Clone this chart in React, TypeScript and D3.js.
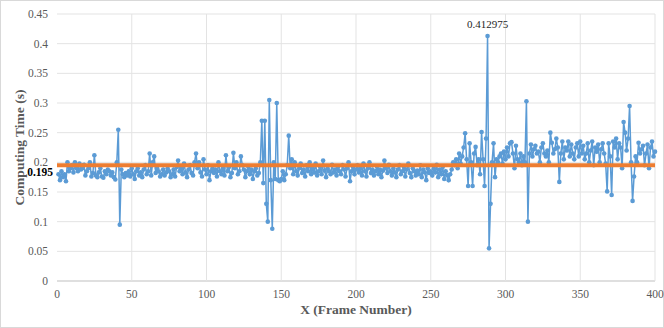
import React from "react";
import * as d3 from "d3";

const segA = [
  0.180,0.170,0.185,0.175,0.180,0.168,0.200,0.185,0.190,0.195,
  0.183,0.200,0.190,0.185,0.198,0.188,0.190,0.196,0.178,0.185,
  0.190,0.200,0.176,0.182,0.212,0.178,0.175,0.183,0.190,0.176,
  0.174,0.185,0.180,0.188,0.185,0.178,0.183,0.175,0.171,0.200,
  0.255,0.095,0.188,0.180,0.175,0.182,0.178,0.185,0.176,0.190,
];
const segB = [
  0.180,0.172,0.185,0.190,0.178,0.183,0.175,0.188,0.195,0.180,
  0.185,0.215,0.178,0.200,0.210,0.182,0.190,0.185,0.176,0.180,
  0.188,0.178,0.183,0.190,0.185,0.175,0.180,0.188,0.176,0.192,
  0.203,0.185,0.190,0.180,0.198,0.183,0.175,0.188,0.195,0.182,
  0.178,0.200,0.215,0.190,0.200,0.183,0.176,0.205,0.188,0.180,
];
const segC = [
  0.195,0.170,0.185,0.190,0.182,0.188,0.176,0.200,0.185,0.180,
  0.190,0.178,0.212,0.185,0.192,0.175,0.182,0.216,0.190,0.200,
  0.180,0.185,0.210,0.195,0.188,0.175,0.185,0.192,0.180,0.188,
  0.172,0.185,0.190,0.178,0.182,0.200,0.270,0.165,0.270,0.130,
  0.100,0.305,0.170,0.088,0.200,0.172,0.300,0.170,0.168,0.172,
];
const segD = [
  0.185,0.170,0.180,0.195,0.245,0.190,0.205,0.180,0.200,0.185,
  0.178,0.190,0.198,0.182,0.188,0.176,0.195,0.185,0.200,0.180,
  0.190,0.183,0.198,0.178,0.185,0.192,0.180,0.203,0.186,0.175,
  0.190,0.185,0.180,0.196,0.183,0.188,0.178,0.192,0.185,0.180,
  0.195,0.188,0.176,0.190,0.200,0.168,0.185,0.192,0.180,0.188,
];
const segE = [
  0.195,0.183,0.190,0.178,0.198,0.185,0.176,0.190,0.200,0.182,
  0.188,0.178,0.185,0.193,0.180,0.188,0.175,0.186,0.203,0.190,
  0.182,0.196,0.185,0.178,0.190,0.183,0.175,0.188,0.195,0.180,
  0.185,0.192,0.176,0.188,0.198,0.182,0.175,0.190,0.185,0.178,
  0.186,0.180,0.195,0.175,0.188,0.183,0.170,0.190,0.182,0.185,
];
const segF = [
  0.178,0.190,0.183,0.196,0.175,0.188,0.180,0.192,0.172,0.185,
  0.178,0.170,0.180,0.188,0.200,0.195,0.205,0.190,0.215,0.198,
  0.210,0.225,0.249,0.205,0.160,0.232,0.200,0.160,0.215,0.226,
  0.195,0.205,0.180,0.251,0.205,0.160,0.240,0.412975,0.055,0.130,
  0.200,0.232,0.175,0.205,0.200,0.210,0.215,0.198,0.218,0.205,
];
const segG = [
  0.225,0.210,0.232,0.234,0.215,0.190,0.228,0.205,0.200,0.215,
  0.195,0.210,0.200,0.303,0.100,0.215,0.230,0.210,0.222,0.228,
  0.215,0.218,0.200,0.225,0.232,0.215,0.210,0.220,0.200,0.250,
  0.233,0.215,0.222,0.240,0.225,0.167,0.215,0.235,0.205,0.225,
  0.220,0.235,0.210,0.230,0.215,0.205,0.225,0.232,0.210,0.235,
];
const segH = [
  0.215,0.228,0.205,0.215,0.232,0.200,0.220,0.235,0.195,0.225,
  0.218,0.230,0.200,0.222,0.232,0.215,0.198,0.151,0.232,0.210,
  0.145,0.235,0.225,0.240,0.205,0.232,0.225,0.190,0.268,0.250,
  0.220,0.240,0.295,0.200,0.135,0.176,0.210,0.200,0.233,0.215,
  0.222,0.228,0.195,0.215,0.230,0.190,0.225,0.235,0.210,0.218,
];

const computingTime = [...segA, ...segB, ...segC, ...segD, ...segE, ...segF, ...segG, ...segH];
const averageTime = 0.195;
const peakLabel = "0.412975";
const xTicks = [0, 50, 100, 150, 200, 250, 300, 350, 400];
const yTicks = [0, 0.05, 0.1, 0.15, 0.2, 0.25, 0.3, 0.35, 0.4, 0.45];

const W = 664, H = 328;
const M = { left: 57, right: 9, top: 14, bottom: 47 };

export default function App() {
  const x = d3.scaleLinear().domain([0, 400]).range([M.left, W - M.right]);
  const y = d3.scaleLinear().domain([0, 0.45]).range([H - M.bottom, M.top]);
  const pts = computingTime.map((v, i) => [i + 1, v] as [number, number]);
  const line = d3.line<[number, number]>().x(d => x(d[0])).y(d => y(d[1]));
  const peakIdx = d3.maxIndex(computingTime);
  const font = "'Liberation Serif', 'Times New Roman', serif";
  return (
    <svg width={W} height={H} style={{ position: "absolute", left: 0, top: 0, background: "#fff" }} fontFamily={font}>
      <rect x={0.5} y={0.5} width={W - 1} height={H - 1} fill="#fff" stroke="#d9d9d9" />
      {yTicks.map(t => (
        <g key={"y" + t}>
          <line x1={x(0)} x2={x(400)} y1={y(t)} y2={y(t)} stroke={t === 0 ? "#bfbfbf" : "#e3e3e3"} strokeWidth={1} />
          <text x={x(0) - 9} y={y(t) + 4} textAnchor="end" fontSize={11.5} fill="#595959">{String(t)}</text>
        </g>
      ))}
      {xTicks.map(t => (
        <g key={"x" + t}>
          {t > 0 && <line x1={x(t)} x2={x(t)} y1={y(0)} y2={y(0.45)} stroke="#e3e3e3" strokeWidth={1} />}
          <text x={x(t)} y={y(0) + 17} textAnchor="middle" fontSize={11.5} fill="#595959">{t}</text>
        </g>
      ))}
      <path d={line(pts) || ""} fill="none" stroke="#5b9bd5" strokeWidth={1.5} />
      {pts.map((p, i) => (
        <circle key={i} cx={x(p[0])} cy={y(p[1])} r={2.3} fill="#5b9bd5" />
      ))}
      <line x1={x(0)} x2={x(400)} y1={y(averageTime)} y2={y(averageTime)} stroke="#ed7d31" strokeWidth={4} />
      <text x={x(0) - 4} y={y(averageTime) + 11} textAnchor="end" fontSize={11.5} fontWeight="bold" fill="#000">{averageTime}</text>
      <text x={x(peakIdx + 1)} y={y(computingTime[peakIdx]) - 8} textAnchor="middle" fontSize={11} fill="#262626">{peakLabel}</text>
      <text transform={`translate(24,${(y(0) + y(0.45)) / 2}) rotate(-90)`} textAnchor="middle" fontSize={13.5} fontWeight="bold" fill="#595959">Computing Time (s)</text>
      <text x={(x(0) + x(400)) / 2} y={H - 14} textAnchor="middle" fontSize={13.5} fontWeight="bold" fill="#595959">X (Frame Number)</text>
    </svg>
  );
}
